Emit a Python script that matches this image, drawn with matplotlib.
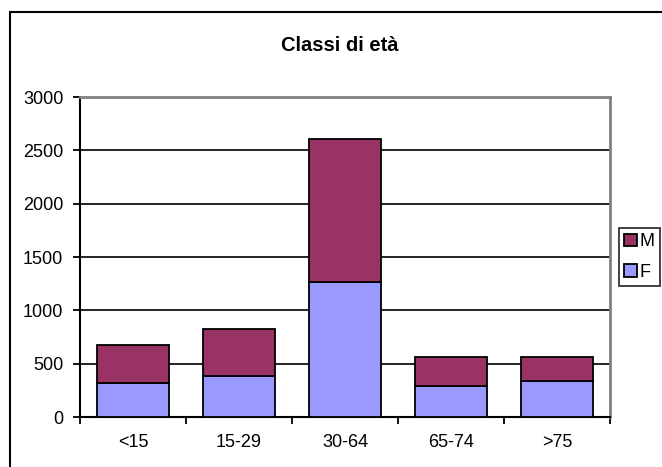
import matplotlib
matplotlib.use("Agg")
import matplotlib.pyplot as plt
import matplotlib.patches as mpatches
import numpy as np

plt.rcParams['font.family'] = ['Liberation Sans', 'DejaVu Sans']

categories = ["<15", "15-29", "30-64", "65-74", ">75"]
f_values = [316, 389, 1265, 294, 335]
m_values = [358, 436, 1345, 269, 228]
y_ticks = [0, 500, 1000, 1500, 2000, 2500, 3000]
title = "Classi di età"

W, H = 662, 467
fig = plt.figure(figsize=(W / 100, H / 100), dpi=100)

# outer chart frame (extends beyond right/bottom edge)
fig.patches.append(mpatches.Rectangle((10 / W, -0.2), 1.0, 1.2 - 12 / H,
                                      transform=fig.transFigure, fill=False,
                                      edgecolor="black", linewidth=1.5, clip_on=False))

left, right, top, bottom = 80, 610, 97, 417
ax = fig.add_axes([left / W, 1 - bottom / H, (right - left) / W, (bottom - top) / H])

x = np.arange(len(categories))
bw = 0.67
bf = ax.bar(x, f_values, width=bw, color="#9999FF", edgecolor="black", linewidth=1.3, zorder=3, label="F")
bm = ax.bar(x, m_values, width=bw, bottom=f_values, color="#993366", edgecolor="black", linewidth=1.3, zorder=3, label="M")

ax.set_xlim(-0.5, len(categories) - 0.5)
ax.set_ylim(0, 3000)
ax.set_yticks(y_ticks)
ax.set_yticklabels([str(v) for v in y_ticks])
for v in y_ticks[1:-1]:
    ax.axhline(v, color="black", linewidth=1.2, zorder=1)

ax.set_xticks(x)
ax.set_xticklabels(categories)
ax.set_xticks(np.arange(len(categories) + 1) - 0.5, minor=True)
ax.tick_params(axis="x", which="major", length=0, pad=12, labelsize=13)
ax.tick_params(axis="x", which="minor", length=5, width=1.3, direction="out", color="black")
ax.tick_params(axis="y", length=5, width=1.3, direction="out", pad=7, labelsize=13)

ax.spines["left"].set_linewidth(1.5)
ax.spines["bottom"].set_linewidth(1.5)
ax.spines["top"].set_color("#808080")
ax.spines["right"].set_color("#808080")
ax.spines["top"].set_linewidth(2)
ax.spines["right"].set_linewidth(2)

fig.text(340 / W, 1 - 45 / H, title, ha="center", va="center", fontsize=14.5, fontweight="bold")

leg = fig.legend(handles=[bm, bf], labels=["M", "F"], loc="upper left",
                 bbox_to_anchor=(619 / W, 1 - 228 / H), frameon=True, fancybox=False,
                 edgecolor="black", fontsize=13, handlelength=0.7, handleheight=0.7,
                 handletextpad=0.15, borderpad=0.3, labelspacing=0.75, borderaxespad=0)
leg.get_frame().set_linewidth(1.3)

fig.savefig("out.png", dpi=100)
